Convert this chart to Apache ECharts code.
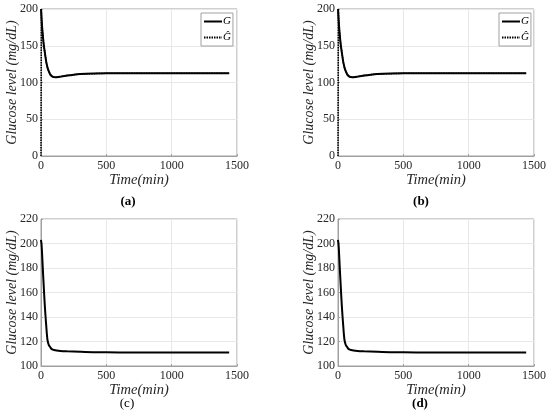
<!DOCTYPE html>
<html>
<head>
<meta charset="utf-8">
<script src="https://cdn.jsdelivr.net/npm/echarts@6/dist/echarts.min.js"></script>
<style>
html,body{margin:0;padding:0;background:#fff;}
#main{width:550px;height:420px;}
</style>
</head>
<body>
<div id="main"></div>
<script>
// 图 (a)(b)：G 与估计值 Ĝ，初值 200
var timeAB = [0, 5, 10, 15, 20, 30, 40, 45, 50, 60, 70, 80, 90, 100, 115, 130, 150, 200, 250, 300, 400, 500, 700, 1000, 1440]
var glucoseAB = [200, 185, 172, 162, 153, 140, 128, 124, 120, 115, 111, 109, 107.8, 107.3, 107, 107.3, 108, 109.5, 110.7, 111.5, 112.2, 112.5, 112.6, 112.6, 112.6]
// Ĝ 从 0 开始，几分钟内追上 G，之后与 G 重合
var timeHat = [0, 3, 5, 10, 15, 20, 30, 40, 50, 60, 80, 100, 150, 200, 300, 500, 1000, 1440]
var glucoseHat = [0, 198, 185, 172, 162, 153, 140, 128, 120, 115, 109, 107.3, 108, 109.5, 111.5, 112.5, 112.6, 112.6]
// 图 (c)(d)：初值约 203
var timeCD = [0, 5, 10, 15, 20, 25, 30, 35, 40, 45, 50, 60, 70, 80, 100, 150, 200, 300, 400, 600, 1000, 1440]
var glucoseCD = [203, 198, 188, 177, 167, 157, 148, 140, 133, 126, 121, 117, 115.5, 114, 113, 112.3, 112, 111.6, 111.3, 111.1, 111, 111]
var xTicks = [0, 500, 1000, 1500]
var panelLabels = ['(a)', '(b)', '(c)', '(d)']

function pairs(xs, ys){
	var out = []
	for(var i=0;i<xs.length;i++){
		out.push([xs[i], ys[i]])
	}
	return out
}

var serif = "'Liberation Serif', 'DejaVu Serif', serif"
var boxes = [
	{left:41, top:9},
	{left:338, top:9},
	{left:41, top:219},
	{left:338, top:219}
]
var grids = [], xAxes = [], yAxes = []
for(var i=0;i<4;i++){
	grids.push({
		left: boxes[i].left, top: boxes[i].top, width:196, height:147,
		show:true, borderColor:'#a0a0a0', borderWidth:1, backgroundColor:'#fff'
	})
	xAxes.push({
		type:'value', gridIndex:i, min:xTicks[0], max:xTicks[xTicks.length-1], interval:500,
		name:'Time(min)', nameLocation:'middle', nameGap:17, nameMoveOverlap:false,
		nameTextStyle:{fontFamily:serif, fontStyle:'italic', fontSize:14.5, color:'#262626'},
		axisLine:{show:true, lineStyle:{color:'#a0a0a0', width:1}},
		axisTick:{show:true, inside:true, length:2, lineStyle:{color:'#a0a0a0'}},
		axisLabel:{fontFamily:serif, fontSize:12, color:'#262626', margin:4, formatter:function(v){ return String(v) }},
		splitLine:{show:true, lineStyle:{color:'#e8e8e8', width:1}}
	})
	var isTop = i < 2
	yAxes.push({
		type:'value', gridIndex:i,
		min: isTop ? 0 : 100, max: isTop ? 200 : 220, interval: isTop ? 50 : 20,
		name:'Glucose level (mg/dL)', nameLocation:'middle', nameGap:22, nameRotate:90, nameMoveOverlap:false,
		nameTextStyle:{fontFamily:serif, fontStyle:'italic', fontSize:14, color:'#262626'},
		axisLine:{show:true, lineStyle:{color:'#a0a0a0', width:1}},
		axisTick:{show:true, inside:true, length:2, lineStyle:{color:'#a0a0a0'}},
		axisLabel:{fontFamily:serif, fontSize:12, color:'#262626', margin:3},
		splitLine:{show:true, lineStyle:{color:'#e8e8e8', width:1}}
	})
}

var series = []
for(var j=0;j<4;j++){
	if(j < 2){
		series.push({
			name:'Ĝ', type:'line', xAxisIndex:j, yAxisIndex:j, symbol:'none',
			data: pairs(timeHat, glucoseHat), z:2,
			itemStyle:{color:'#000'},
			lineStyle:{color:'#000', width:1.5, type:[1.5,1]}
		})
	}
	series.push({
		name:'G', type:'line', xAxisIndex:j, yAxisIndex:j, symbol:'none', smooth:0.3,
		data: j < 2 ? pairs(timeAB, glucoseAB) : pairs(timeCD, glucoseCD), z:3,
		itemStyle:{color:'#000'},
		lineStyle:{color:'#000', width:2}
	})
}

function makeLegend(left){
	return {
		left:left, top:13, orient:'vertical', itemWidth:18, itemHeight:8, itemGap:5,
		padding:[3,2,3,2], borderColor:'#a0a0a0', borderWidth:1, backgroundColor:'#fff',
		borderRadius:0, selectedMode:false,
		itemStyle:{opacity:0},
		textStyle:{fontFamily:serif, fontStyle:'italic', fontSize:11, color:'#000', padding:[0,0,0,-4]},
		data:['G','Ĝ']
	}
}

var labelPos = [[128,202,'bold'],[421,202,'bold'],[127,404,'normal'],[420,404,'bold']]
var graphics = []
for(var k=0;k<4;k++){
	graphics.push({
		type:'text', x:labelPos[k][0], y:labelPos[k][1],
		style:{text:panelLabels[k], fontFamily:serif, fontSize:13, fontWeight:labelPos[k][2],
			fill:'#000', textAlign:'center', textVerticalAlign:'middle'}
	})
}

var myChart = echarts.init(document.getElementById('main'))
var option = {
	animation:false,
	backgroundColor:'#fff',
	grid:grids,
	xAxis:xAxes,
	yAxis:yAxes,
	legend:[makeLegend(201), makeLegend(499)],
	series:series,
	graphic:graphics
}
myChart.setOption(option)
</script>
</body>
</html>
